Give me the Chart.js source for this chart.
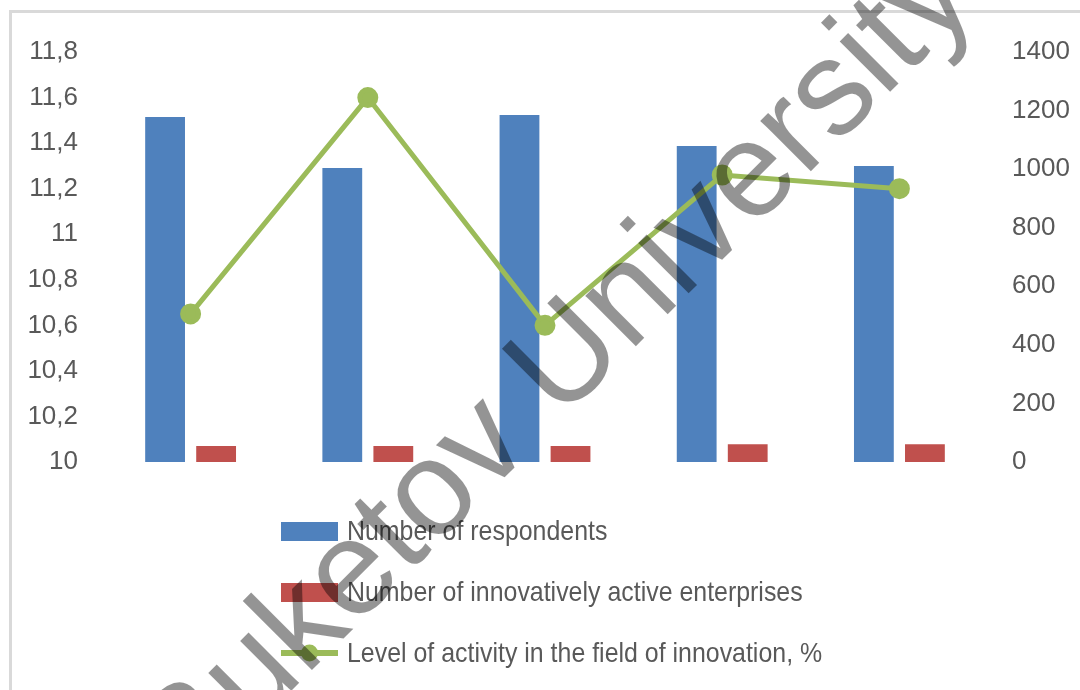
<!DOCTYPE html>
<html>
<head>
<meta charset="utf-8">
<script src="https://cdn.jsdelivr.net/npm/chart.js@4.4.0/dist/chart.umd.min.js"></script>
<style>
  html, body { margin: 0; padding: 0; background: #ffffff; }
  #wrap { position: relative; width: 1080px; height: 690px; overflow: hidden; }
  #frame { position: absolute; left: 9px; top: 10px; width: 1200px; height: 800px;
           border-left: 3px solid #d9d9d9; border-top: 3px solid #d9d9d9; }
  canvas { position: absolute; left: 0; top: 0; }
</style>
</head>
<body>
<div id="wrap">
  <div id="frame"></div>
  <canvas id="c" width="1080" height="690"></canvas>
</div>
<script>
const categories = ["1", "2", "3", "4", "5"];
const respondents = [1178, 1004, 1185, 1079, 1011];
const activeEnterprises = [55, 55, 55, 61, 61];
const activityLevel = [10.65, 11.60, 10.60, 11.26, 11.20];
const seriesNames = [
  "Number of respondents",
  "Number of innovatively active enterprises",
  "Level of activity in the field of innovation, %"
];
const leftTicks = { min: 10, max: 11.8, step: 0.2 };
const rightTicks = { min: 0, max: 1400, step: 200 };
const watermarkText = "Buketov University";

const FONT = "'Liberation Sans', Arial, sans-serif";
const TEXT_COLOR = "#595959";

const legendPlugin = {
  id: "customLegend",
  afterDraw(chart) {
    const ctx = chart.ctx;
    const items = chart.data.datasets.slice()
      .sort((a, b) => a.legendOrder - b.legendOrder);
    const x0 = 281, sw = 57, rowY = [531, 592, 653];
    ctx.save();
    items.forEach((d, k) => {
      const y = rowY[k];
      if (d.type === "line") {
        ctx.strokeStyle = d.borderColor;
        ctx.lineWidth = 6;
        ctx.beginPath();
        ctx.moveTo(x0, y);
        ctx.lineTo(x0 + sw, y);
        ctx.stroke();
        ctx.fillStyle = d.pointBackgroundColor;
        ctx.beginPath();
        ctx.arc(x0 + sw / 2, y, 8.5, 0, Math.PI * 2);
        ctx.fill();
      } else {
        ctx.fillStyle = d.backgroundColor;
        ctx.fillRect(x0, y - 9, sw, 19);
      }
      ctx.save();
      ctx.translate(x0 + sw + 9, y + 1);
      ctx.scale(0.89, 1);
      ctx.font = "28px " + FONT;
      ctx.textBaseline = "middle";
      ctx.textAlign = "left";
      ctx.fillStyle = TEXT_COLOR;
      ctx.fillText(d.label, 0, 0);
      ctx.restore();
    });
    ctx.restore();
  }
};

const watermarkPlugin = {
  id: "watermark",
  afterDraw(chart) {
    const ctx = chart.ctx;
    ctx.save();
    ctx.translate(584, 398);
    ctx.rotate(-45 * Math.PI / 180);
    ctx.font = "135px 'Liberation Sans', Arial, sans-serif";
    ctx.fillStyle = "rgba(0,0,0,0.42)";
    ctx.textAlign = "center";
    ctx.textBaseline = "alphabetic";
    ctx.fillText(watermarkText, 0, 0);
    ctx.restore();
  }
};

function fmtComma(v) {
  return String(Number(v.toFixed(1))).replace(".", ",");
}

new Chart(document.getElementById("c"), {
  data: {
    labels: categories,
    datasets: [
      {
        type: "bar",
        label: seriesNames[0],
        legendOrder: 0,
        data: respondents,
        yAxisID: "yRight",
        backgroundColor: "#4F81BD",
        categoryPercentage: 0.576,
        barPercentage: 0.78,
        order: 1
      },
      {
        type: "bar",
        label: seriesNames[1],
        legendOrder: 1,
        data: activeEnterprises,
        yAxisID: "yRight",
        backgroundColor: "#C0504D",
        categoryPercentage: 0.576,
        barPercentage: 0.78,
        order: 2
      },
      {
        type: "line",
        label: seriesNames[2],
        legendOrder: 2,
        data: activityLevel,
        yAxisID: "yLeft",
        borderColor: "#9BBB59",
        backgroundColor: "#9BBB59",
        pointBackgroundColor: "#9BBB59",
        pointBorderColor: "#9BBB59",
        borderWidth: 5,
        pointRadius: 8,
        pointHoverRadius: 8,
        tension: 0,
        order: 0
      }
    ]
  },
  options: {
    responsive: false,
    animation: false,
    devicePixelRatio: 1,
    layout: { padding: { top: 52, bottom: 228, left: 0, right: 0 } },
    plugins: { legend: { display: false }, tooltip: { enabled: false } },
    scales: {
      x: {
        display: false,
        offset: true,
        grid: { display: false }
      },
      yLeft: {
        position: "left",
        min: leftTicks.min,
        max: leftTicks.max,
        grid: { display: false },
        border: { display: false },
        ticks: {
          stepSize: leftTicks.step,
          padding: 16,
          color: TEXT_COLOR,
          font: { family: FONT, size: 26 },
          callback: v => fmtComma(v)
        },
        afterFit(s) { s.width = 102; }
      },
      yRight: {
        position: "right",
        min: rightTicks.min,
        max: rightTicks.max,
        grid: { display: false },
        border: { display: false },
        ticks: {
          stepSize: rightTicks.step,
          padding: 16,
          color: TEXT_COLOR,
          font: { family: FONT, size: 26 },
          callback: v => String(v)
        },
        afterFit(s) { s.width = 92; }
      }
    }
  },
  plugins: [legendPlugin, watermarkPlugin]
});
</script>
</body>
</html>
